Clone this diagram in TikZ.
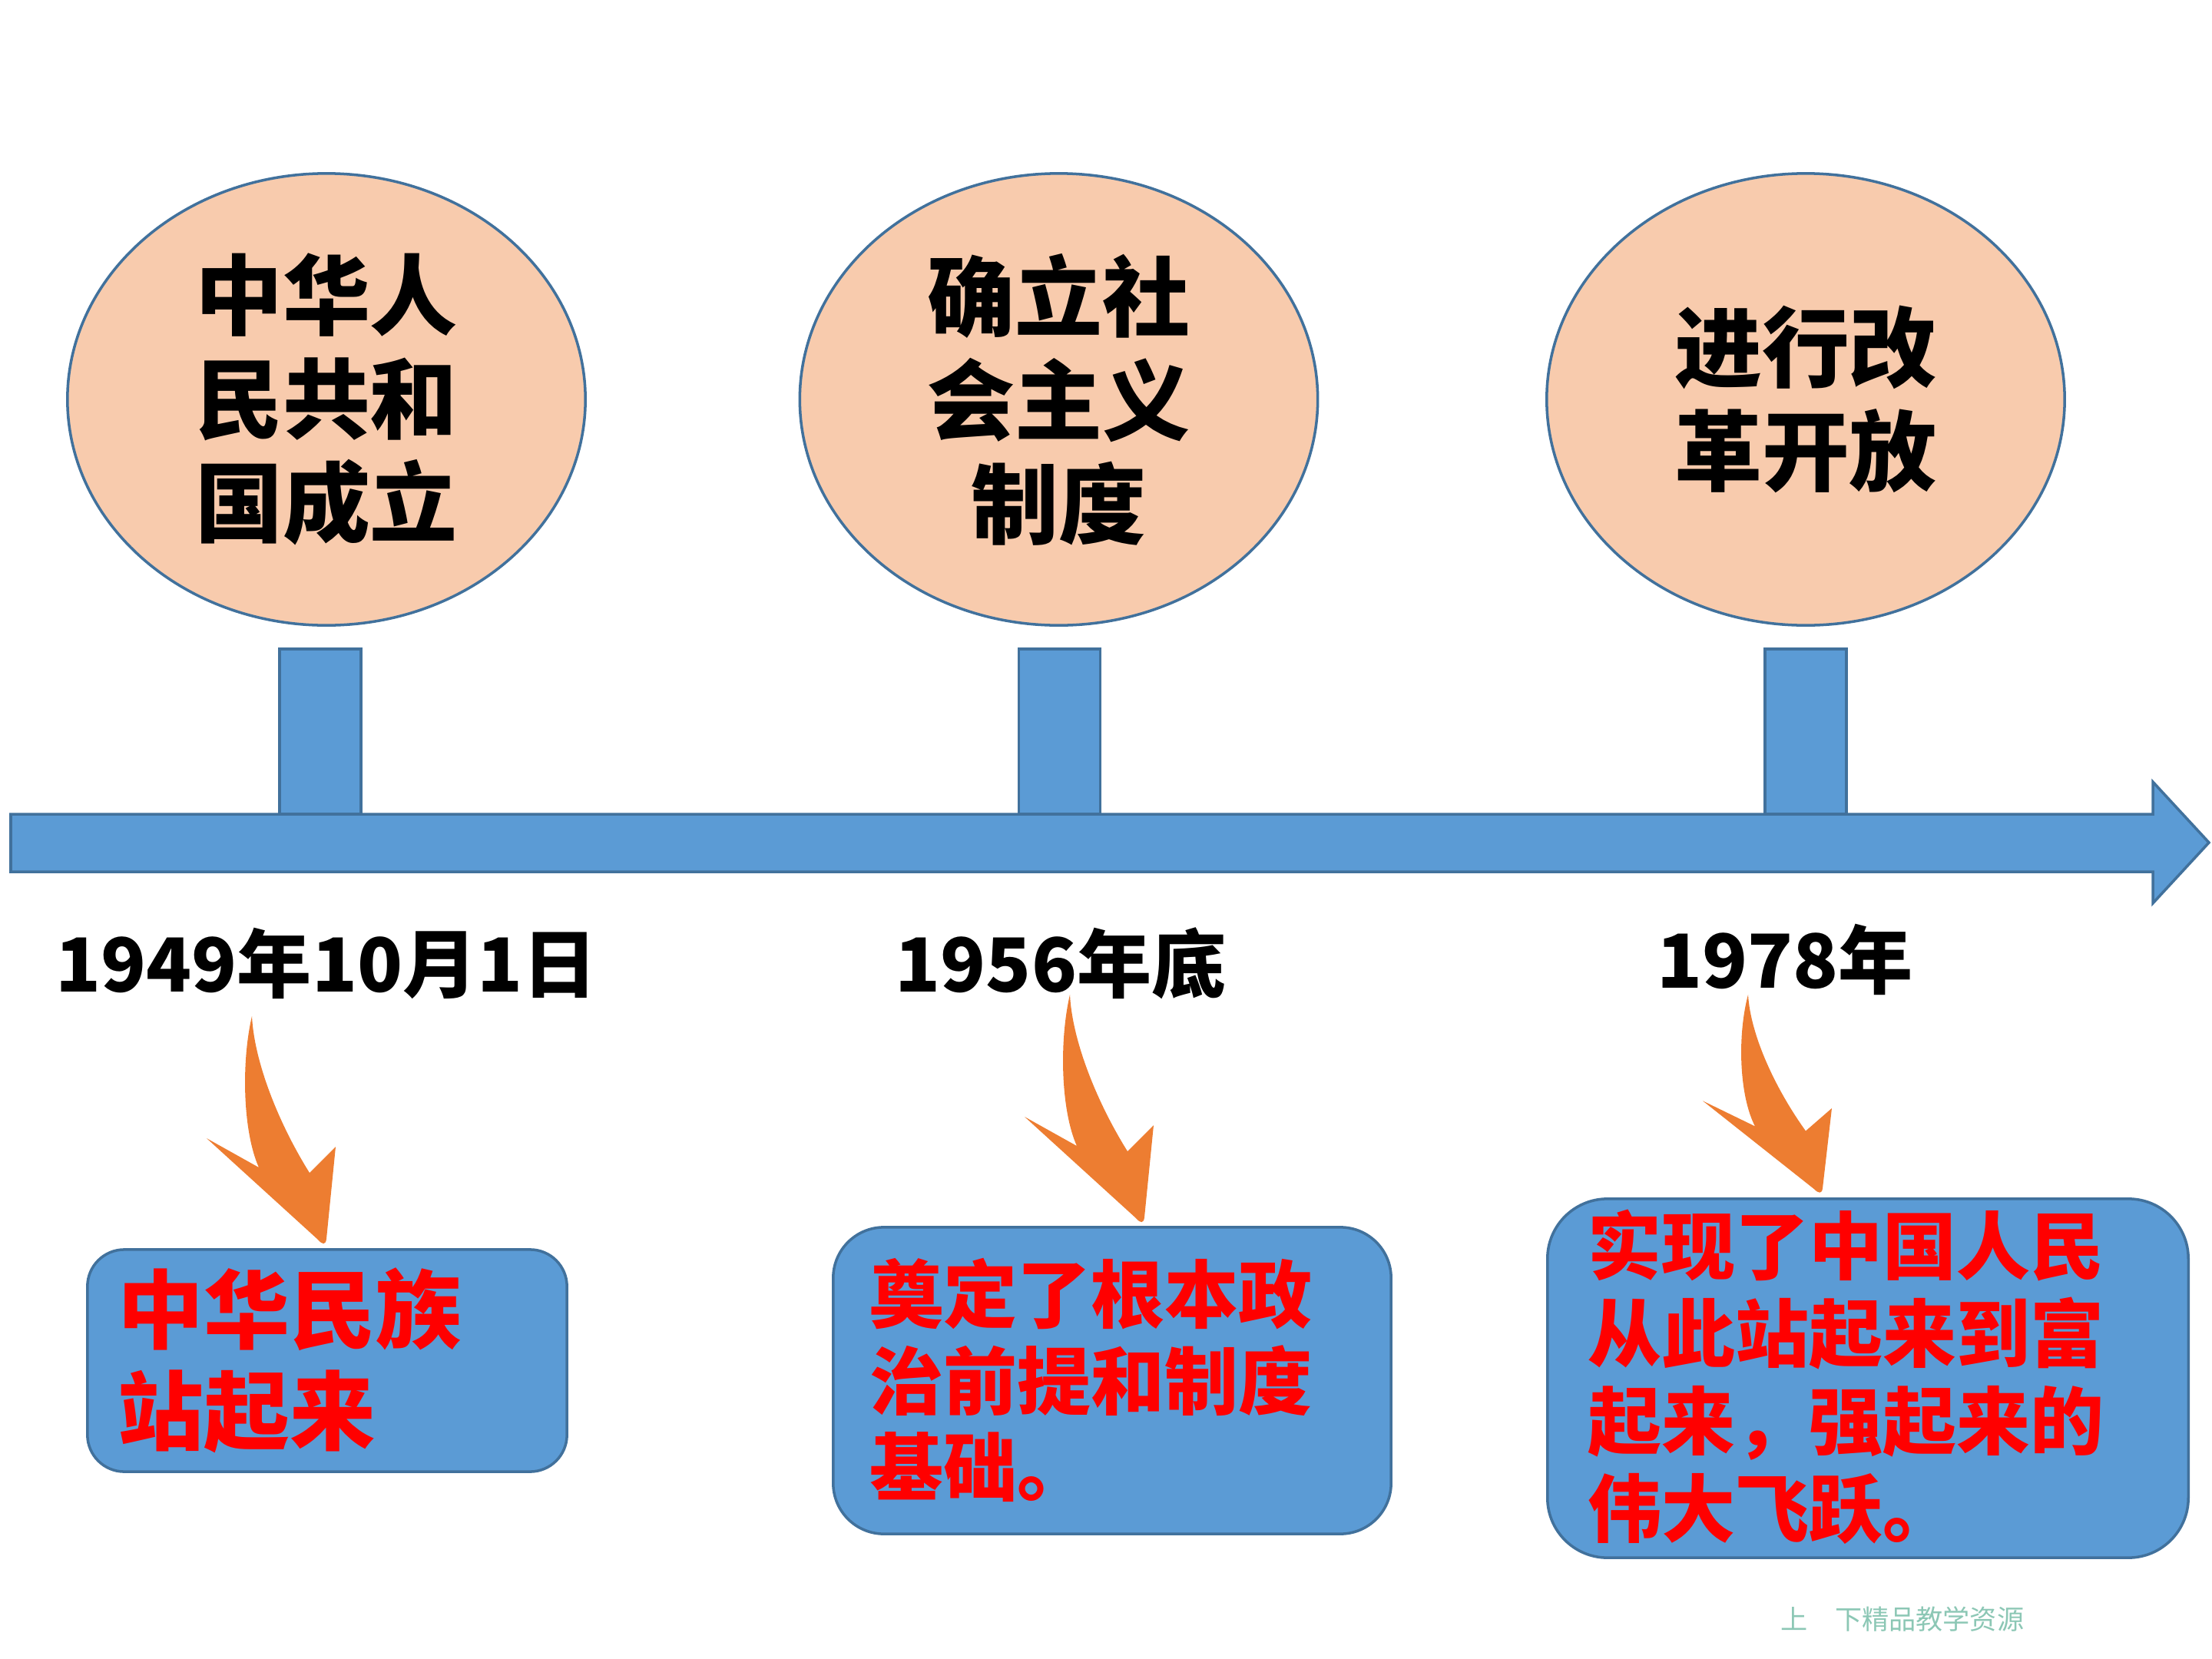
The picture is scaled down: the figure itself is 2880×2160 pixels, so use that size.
\documentclass[tikz,border=0pt]{standalone}
\usepackage{fontspec}
\setmainfont{Noto Sans CJK SC}
\usetikzlibrary{shapes.geometric}
\definecolor{tlblue}{HTML}{5B9BD5}
\definecolor{tlborder}{HTML}{41719C}
\definecolor{peach}{HTML}{F8CBAD}
\definecolor{arrowor}{HTML}{ED7D31}
\definecolor{wmark}{HTML}{8CC7B5}
\definecolor{redtxt}{HTML}{FF0000}
\begin{document}
\begin{tikzpicture}[x=0.01cm,y=-0.01cm,
  bubble/.style={ellipse, draw=tlborder, fill=peach, line width=1pt,
    minimum width=6.74cm, minimum height=5.88cm, inner sep=0pt, align=center,
    font=\fontsize{32.4}{38.4}\selectfont\bfseries},
  stembox/.style={rectangle, draw=tlborder, fill=tlblue, line width=1pt,
    minimum width=1.06cm, minimum height=2.15cm, inner sep=0pt},
  datelbl/.style={font=\fontsize{27.6}{33}\selectfont\bfseries, inner sep=0pt},
  resbox/.style={rectangle, draw=tlborder, fill=tlblue, line width=1pt, inner sep=0pt},
  restext/.style={text=redtxt, align=left, anchor=west, inner sep=0pt},
  curvarrow/.pic={
    \fill[arrowor] (0,0) .. controls (-14,60) and (-12,150) .. (9,197)
      -- (-59,159) -- (86,291) .. controls (92,298) and (96,298) .. (97,290)
      -- (109,170) -- (75,204) .. controls (35,140) and (3,60) .. (0,0) -- cycle;
  }
]
\useasboundingbox (0,0) rectangle (2880,2160);

% timeline arrow
\draw[tlborder, fill=tlblue, line width=1pt]
  (14,1060) -- (2803,1060) -- (2803,1018) -- (2876,1097) -- (2803,1176)
  -- (2803,1135) -- (14,1135) -- cycle;

% stems
\node[stembox] (s1) at (417,952.5) {};
\node[stembox] (s2) at (1379.5,952.5) {};
\node[stembox] (s3) at (2351,952.5) {};

% bubbles
\node[bubble] (e1) at (425,520) {中华人\\民共和\\国成立};
\node[bubble] (e2) at (1378.5,520) {确立社\\会主义\\制度};
\node[bubble] (e3) at (2351,520) {进行改\\革开放};

% dates
\node[datelbl] (d1) at (425,1254) {1949年10月1日};
\node[datelbl] (d2) at (1381,1254) {1956年底};
\node[datelbl] (d3) at (2324,1249) {1978年};

% orange arrows
\coordinate (a1) at (328,1323);
\coordinate (a2) at (1393,1295);
\coordinate (a3) at (2276,1295);
\pic at (a1) {curvarrow};
\pic at (a2) {curvarrow};
\pic[yscale=0.87] at (a3) {curvarrow};

% result boxes
\node[resbox, rounded corners=0.48cm, minimum width=6.24cm, minimum height=2.89cm] (b1) at (426,1771.5) {};
\node[resbox, rounded corners=0.66cm, minimum width=7.26cm, minimum height=3.99cm] (b2) at (1448,1797.5) {};
\node[resbox, rounded corners=0.78cm, minimum width=8.34cm, minimum height=4.67cm] (b3) at (2432,1794.5) {};

\node[restext, font=\fontsize{31.8}{37.5}\selectfont\bfseries] (t1) at (153,1771) {中华民族\\站起来};
\node[restext, font=\fontsize{27.3}{32}\selectfont\bfseries] (t2) at (1132,1797) {奠定了根本政\\治前提和制度\\基础。};
\node[restext, font=\fontsize{27.3}{32.4}\selectfont\bfseries] (t3) at (2067,1793) {实现了中国人民\\从此站起来到富\\起来，强起来的\\伟大飞跃。};

% watermark
\node[anchor=west, inner sep=0pt, text=wmark, font=\fontsize{10}{12}\selectfont] (wm) at (2318,2108) {上　下精品教学资源};
\end{tikzpicture}
\end{document}
